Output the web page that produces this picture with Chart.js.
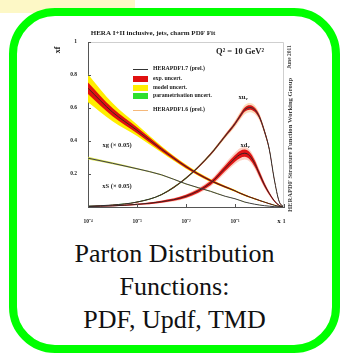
<!DOCTYPE html>
<html>
<head>
<meta charset="utf-8">
<script src="https://cdn.jsdelivr.net/npm/chart.js@4.4.1/dist/chart.umd.min.js"></script>
<style>
  html, body { margin: 0; padding: 0; background: #fff; }
  body { width: 340px; height: 358px; position: relative; overflow: hidden; }
  #strip { position: absolute; left: 0; top: 0; width: 135px; height: 13px; background: #fdf8c6; }
  #card { position: absolute; left: 9px; top: 8px; width: 315px; height: 329px;
          border: 8px solid #0f0; border-radius: 46px; background: #fff; }
  #plot { position: absolute; left: 17px; top: 16px; width: 315px; height: 220px; filter: blur(0.3px); }
  #caption { position: absolute; left: 17px; top: 237px; width: 315px; text-align: center;
             font-family: "Liberation Serif", "Times New Roman", serif; font-size: 26px;
             line-height: 33px; color: #111; }
</style>
</head>
<body>
<div id="strip"></div>
<div id="card"></div>
<div id="plot"><canvas id="c" width="315" height="220"></canvas></div>
<div id="caption">Parton Distribution<br>Functions:<br>PDF, Updf, TMD</div>

<script>
// momentum fraction x (log grid)
const xGrid = [1e-4, 3.16e-4, 1e-3, 3.16e-3, 1e-2, 3.16e-2, 0.063, 0.1, 0.126, 0.158,
               0.2, 0.251, 0.316, 0.398, 0.501, 0.631, 0.794, 1];

// HERAPDF1.7 central values at Q^2 = 10 GeV^2
const xg  = [0.72, 0.575, 0.465, 0.35, 0.245, 0.16, 0.122, 0.098, 0.084, 0.072,
             0.06, 0.05, 0.040, 0.030, 0.020, 0.011, 0.004, 0];          // gluon x0.05
const xS  = [0.296, 0.265, 0.232, 0.195, 0.14, 0.095, 0.065, 0.05, 0.04, 0.03,
             0.023, 0.017, 0.012, 0.008, 0.005, 0.002, 0.001, 0];        // sea x0.05
const xuv = [0.005, 0.012, 0.03, 0.075, 0.175, 0.32, 0.43, 0.505, 0.55, 0.59,
             0.603, 0.59, 0.545, 0.46, 0.35, 0.17, 0.035, 0];
const xdv = [0.003, 0.007, 0.016, 0.032, 0.065, 0.145, 0.235, 0.295, 0.318, 0.326,
             0.31, 0.265, 0.20, 0.135, 0.082, 0.038, 0.01, 0];

// uncertainty half-widths
const xgExp  = [0.035, 0.025, 0.018, 0.012, 0.008, 0.006, 0.005, 0.004, 0.004, 0.004,
                0.003, 0.003, 0.003, 0.002, 0.002, 0.001, 0.001, 0];
const xgMod  = [0.085, 0.055, 0.035, 0.02, 0.013, 0.009, 0.007, 0.006, 0.005, 0.005,
                0.004, 0.004, 0.003, 0.003, 0.002, 0.002, 0.001, 0];
const xSMod  = [0.008, 0.006, 0.005, 0.004, 0.003, 0.003, 0.002, 0.002, 0.002, 0.002,
                0.001, 0.001, 0.001, 0.001, 0.001, 0, 0, 0];
const xuvPar = [0.002, 0.002, 0.003, 0.004, 0.005, 0.006, 0.006, 0.006, 0.005, 0.004,
                0.004, 0.004, 0.004, 0.004, 0.003, 0.002, 0.001, 0];
const xuvExp = [0.001, 0.001, 0.002, 0.003, 0.004, 0.006, 0.008, 0.010, 0.012, 0.013,
                0.013, 0.013, 0.012, 0.011, 0.009, 0.006, 0.003, 0];
const xuvOld = [0.001, 0.001, 0.002, 0.003, 0.005, 0.009, 0.014, 0.020, 0.024, 0.028,
                0.028, 0.026, 0.022, 0.017, 0.011, 0.007, 0.002, 0];
const xdvExp = [0.002, 0.003, 0.004, 0.006, 0.009, 0.013, 0.017, 0.02, 0.022, 0.022,
                0.022, 0.02, 0.016, 0.012, 0.008, 0.005, 0.002, 0];
const xdvOld = [0.002, 0.003, 0.005, 0.008, 0.013, 0.021, 0.029, 0.035, 0.038, 0.038,
                0.036, 0.032, 0.026, 0.019, 0.012, 0.006, 0.002, 0];

// axis ticks
const xTickValues = [1e-4, 1e-3, 1e-2, 1e-1, 1];
const xTickLabels = ['10\u207B\u2074', '10\u207B\u00B3', '10\u207B\u00B2', '10\u207B\u00B9', '1'];
const yTickValues = [0.2, 0.4, 0.6, 0.8, 1];
const yTickLabels = ['0.2', '0.4', '0.6', '0.8', '1'];

const titleText = 'HERA I+II inclusive, jets, charm PDF Fit';
const scaleText = 'Q\u00B2 = 10 GeV\u00B2';
const legendLabels = ['HERAPDF1.7 (prel.)', 'exp. uncert.', 'model uncert.',
                      'parametrisation uncert.', 'HERAPDF1.6 (prel.)'];
const sideTexts = ['June 2011', 'HERAPDF Structure Function Working Group'];

const pts = (vals, err, sign) =>
  xGrid.map((x, i) => ({ x, y: vals[i] + (err ? sign * err[i] : 0) }));

const datasets = [];
const common = { pointRadius: 0, tension: 0.4, cubicInterpolationMode: 'monotone', spanGaps: true };
function band(vals, err, color, order) {
  const lo = datasets.length;
  datasets.push({ ...common, data: pts(vals, err, -1), borderWidth: 0, fill: false, order });
  datasets.push({ ...common, data: pts(vals, err, 1), borderWidth: 0,
                  backgroundColor: color, fill: lo, order });
}
function curve(vals, color, width, order) {
  datasets.push({ ...common, data: pts(vals), borderColor: color, borderWidth: width,
                  fill: false, order });
}

band(xuv, xuvOld, 'rgba(250,190,130,0.55)', 12);
band(xdv, xdvOld, 'rgba(250,150,120,0.45)', 12);
band(xg, xgMod, '#ffee00', 10);
band(xS, xSMod, 'rgba(215,225,60,0.9)', 10);
band(xuv, xuvPar, '#2ec82e', 9);
band(xg, xgExp, '#e01010', 8);
band(xuv, xuvExp, '#d81818', 8);
band(xdv, xdvExp, '#e01515', 8);
curve(xg, '#3a2a20', 1, 1);
curve(xS, '#3e3e48', 1, 1);
curve(xuv, '#2f2f2f', 1, 1);
curve(xdv, '#3a2020', 1, 1);

const serif = '"Liberation Serif", "Times New Roman", serif';

const annotations = {
  id: 'annotations',
  afterDraw(chart) {
    const c = chart.ctx;
    const { left, top, right, bottom } = chart.chartArea;
    const sx = chart.scales.x, sy = chart.scales.y;
    c.save();

    // light frame on top and right
    c.strokeStyle = '#cfcfcf';
    c.lineWidth = 1;
    c.beginPath();
    c.moveTo(left, top + 0.5); c.lineTo(right - 0.5, top + 0.5); c.lineTo(right - 0.5, bottom);
    c.stroke();

    // inward tick marks
    c.strokeStyle = '#555';
    c.beginPath();
    yTickValues.forEach(v => {
      const p = Math.round(sy.getPixelForValue(v)) + 0.5;
      c.moveTo(left, p); c.lineTo(left + 3, p);
    });
    xTickValues.forEach(v => {
      const p = Math.round(sx.getPixelForValue(v)) + 0.5;
      c.moveTo(p, bottom); c.lineTo(p, bottom - 3);
    });
    c.stroke();

    c.fillStyle = '#222';
    c.textBaseline = 'middle';

    // title and scale
    c.textAlign = 'center';
    c.font = 'bold 7px ' + serif;
    c.fillText(titleText, 136, 17);
    c.font = 'bold 8.5px ' + serif;
    c.fillText(scaleText, 223, 36);

    // y-axis title
    c.save();
    c.translate(41, 34); c.rotate(-Math.PI / 2);
    c.font = 'bold 8px ' + serif;
    c.fillText('xf', 0, 0);
    c.restore();

    // x-axis title
    c.font = 'bold 7px ' + serif;
    c.fillText('x', 262, 205);

    // legend
    const lx = 116, lw = 15, tx = 136;
    c.textAlign = 'left';
    c.font = 'bold 5.8px ' + serif;
    c.strokeStyle = '#333'; c.lineWidth = 1;
    c.beginPath(); c.moveTo(lx, 53.5); c.lineTo(lx + lw, 53.5); c.stroke();
    c.fillText(legendLabels[0], tx, 53);
    c.fillStyle = '#e01010'; c.fillRect(lx, 60, lw, 6);
    c.fillStyle = '#ffee00'; c.fillRect(lx, 69, lw, 6);
    c.fillStyle = '#2ee02e'; c.fillRect(lx, 77, lw, 6);
    c.fillStyle = '#222';
    c.fillText(legendLabels[1], tx, 63);
    c.fillText(legendLabels[2], tx, 72);
    c.fillText(legendLabels[3], tx, 80);
    c.strokeStyle = '#f5b87a';
    c.beginPath(); c.moveTo(lx, 94.5); c.lineTo(lx + lw, 94.5); c.stroke();
    c.fillText(legendLabels[4], tx, 94);

    // curve labels
    c.textAlign = 'center';
    c.font = 'bold 6.5px ' + serif;
    c.fillText('xg (\u00D7 0.05)', 100, 129);
    c.fillText('xS (\u00D7 0.05)', 100, 170);
    const sub = (main, s, x, y) => {
      c.font = 'bold 6.5px ' + serif;
      const w = c.measureText(main).width;
      c.textAlign = 'left';
      c.fillText(main, x - w / 2 - 1, y);
      c.font = 'bold 4.5px ' + serif;
      c.fillText(s, x + w / 2 - 1, y + 2);
      c.textAlign = 'center';
    };
    sub('xu', 'v', 226, 81);
    sub('xd', 'v', 228, 129);

    // side notes
    c.fillStyle = '#444';
    c.font = 'bold 5.5px ' + serif;
    c.save(); c.translate(273, 41); c.rotate(-Math.PI / 2);
    c.fillText(sideTexts[0], 0, 0); c.restore();
    c.font = 'bold 6.6px ' + serif;
    c.save(); c.translate(273, 129); c.rotate(-Math.PI / 2);
    c.fillText(sideTexts[1], 0, 0); c.restore();

    c.restore();
  }
};

new Chart(document.getElementById('c'), {
  type: 'line',
  data: { datasets },
  options: {
    responsive: false,
    animation: false,
    events: [],
    layout: { padding: { top: 26, right: 48, bottom: 11, left: 0 } },
    plugins: { legend: { display: false }, tooltip: { enabled: false }, title: { display: false } },
    scales: {
      x: {
        type: 'logarithmic', min: 1e-4, max: 1,
        grid: { display: false },
        border: { display: true, color: '#555', width: 1 },
        afterBuildTicks: s => { s.ticks = xTickValues.map(v => ({ value: v })); },
        afterFit: s => { s.height = 18; },
        ticks: {
          autoSkip: false, maxRotation: 0, padding: 3, color: '#222',
          font: { family: serif, size: 5.5, weight: 'bold' },
          callback: (v, i) => xTickLabels[i]
        }
      },
      y: {
        type: 'linear', min: 0, max: 1,
        grid: { display: false },
        border: { display: true, color: '#555', width: 1 },
        afterBuildTicks: s => { s.ticks = yTickValues.map(v => ({ value: v })); },
        afterFit: s => { s.width = 71; },
        ticks: {
          padding: 3, color: '#222',
          font: { family: serif, size: 5.5, weight: 'bold' },
          callback: (v, i) => yTickLabels[i]
        }
      }
    }
  },
  plugins: [annotations]
});
</script>
</body>
</html>
